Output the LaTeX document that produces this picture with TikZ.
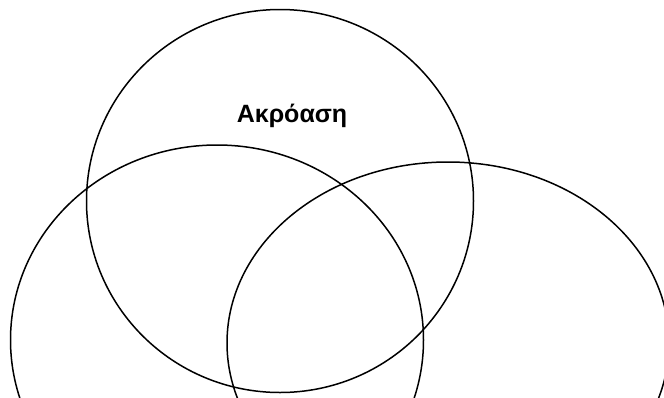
\documentclass[tikz,border=0pt]{standalone}
\usepackage{fontspec}
\setmainfont{Liberation Sans}
\begin{document}
\begin{tikzpicture}[x=1pt, y=-1pt, line width=1.5pt]
	\useasboundingbox (0,0) rectangle (664,397);
	\clip (0,0) rectangle (664,397);
	\draw (280,201) ellipse [x radius=193.5, y radius=191.5];
	\draw (217,340) ellipse [x radius=206.5, y radius=195];
	\draw (448,343) ellipse [x radius=221, y radius=181];
	\node[font=\bfseries\fontsize{25}{28}\selectfont] (akroasi) at (292,116) {Ακρόαση};
\end{tikzpicture}
\end{document}
